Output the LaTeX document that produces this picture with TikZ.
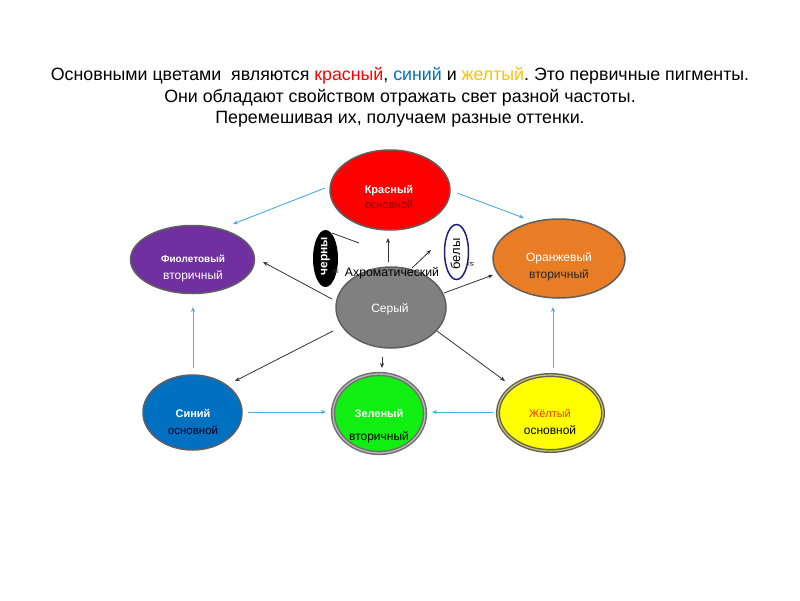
\documentclass[tikz,border=0pt]{standalone}
\usepackage{fontspec}
\setmainfont{Liberation Sans}
\usetikzlibrary{shapes.geometric,arrows.meta}
\definecolor{cRed}{HTML}{FF0000}
\definecolor{cViolet}{HTML}{7030A0}
\definecolor{cOrange}{HTML}{E87D25}
\definecolor{cGray}{HTML}{808080}
\definecolor{cBlue}{HTML}{0070C0}
\definecolor{cGreen}{HTML}{11EE11}
\definecolor{cYellow}{HTML}{FFFF00}
\definecolor{cBorder}{HTML}{5F5F5F}
\definecolor{cSky}{HTML}{4BACE0}
\definecolor{cNavy}{HTML}{1F1F80}
\definecolor{cDarkRed}{HTML}{7A0000}
\definecolor{cTitleBlue}{HTML}{0070C0}
\definecolor{cTitleYellow}{HTML}{FFC000}
\definecolor{cZhel}{HTML}{FF3300}
\tikzset{
  blob/.style={ellipse, draw=cBorder, line width=1.5pt, inner sep=0pt},
  txt/.style={inner sep=0pt, font=\fontsize{11}{13}\selectfont},
  ttl/.style={inner sep=0pt, anchor=base, font=\fontsize{17.8}{20}\selectfont},
  skyarrow/.style={draw=cSky, line width=0.9pt, -{Stealth[length=5pt,width=4pt]}},
  darkarrow/.style={draw=black!80, line width=0.8pt, -{Stealth[length=5pt,width=4pt]}},
}
\frenchspacing
\begin{document}
\begin{tikzpicture}[x=1pt,y=-1pt]
\useasboundingbox (0,0) rectangle (800,600);
% title
\node[ttl] (t1) at (400,80)
 {Основными цветами\ \ являются \textcolor{cRed}{красный}, \textcolor{cTitleBlue}{синий} и \textcolor{cTitleYellow}{желтый}. Это первичные пигменты.};
\node[ttl] (t2) at (400,102)
 {Они обладают свойством отражать свет разной частоты.};
\node[ttl] (t3) at (400,123)
 {Перемешивая их, получаем разные оттенки.};
% ellipses
\node[blob, fill=cRed, minimum width=120pt, minimum height=80pt] (red) at (390,190) {};
\node[blob, fill=cViolet, minimum width=124pt, minimum height=68pt] (viol) at (192.5,259.5) {};
\node[blob, fill=cOrange, minimum width=132pt, minimum height=79pt] (orng) at (559,258.5) {};
\node[blob, fill=cGray, minimum width=110pt, minimum height=81pt] (gray) at (391,307.5) {};
\node[blob, fill=cBlue, minimum width=99pt, minimum height=75pt] (blue) at (192.5,412.5) {};
\node[blob, fill=cGreen, draw=cBorder!90, line width=1.5pt, double=gray!55, double distance=1.3pt, minimum width=92pt, minimum height=79pt] (grn) at (379,413.5) {};
\node[blob, fill=cYellow, line width=1.4pt, double=yellow!55!gray, double distance=1.2pt, minimum width=105pt, minimum height=76pt] (yel) at (550.5,413) {};
\node[ellipse, fill=black, inner sep=0pt, minimum width=25pt, minimum height=57pt] (blk) at (325.5,258.5) {};
\node[ellipse, draw=cNavy, line width=1.5pt, fill=white, inner sep=0pt, minimum width=24pt, minimum height=55pt] (wht) at (456.5,252) {};
% texts
\node[txt, text=white, font=\fontsize{11}{13}\selectfont\bfseries] (redA) at (389,191) {Красный};
\node[txt, text=cDarkRed] (redB) at (389,204.5) {основной};
\node[txt, text=white, font=\fontsize{10}{12}\selectfont\bfseries] (violA) at (193,259) {Фиолетовый};
\node[txt, text=white, font=\fontsize{12}{14}\selectfont] (violB) at (193,276) {вторичный};
\node[txt, text=white, font=\fontsize{12}{14}\selectfont] (orngA) at (559,258) {Оранжевый};
\node[txt, text=black!85, font=\fontsize{12}{14}\selectfont] (orngB) at (559,275) {вторичный};
\node[txt, text=white, font=\fontsize{12}{14}\selectfont] (grayA) at (390,309) {Серый};
\node[txt, text=white, font=\fontsize{11}{13}\selectfont\bfseries] (blueA) at (193,413) {Синий};
\node[txt, text=black!85!blue, font=\fontsize{11.5}{14}\selectfont] (blueB) at (193,430) {основной};
\node[txt, text=white, font=\fontsize{11}{13}\selectfont\bfseries] (grnA) at (379,413) {Зеленый};
\node[txt, text=black, font=\fontsize{12}{14}\selectfont] (grnB) at (379,437) {вторичный};
\node[txt, text=cZhel, font=\fontsize{11}{13}\selectfont] (yelA) at (550,413) {Жёлтый};
\node[txt, text=black, font=\fontsize{12}{14}\selectfont] (yelB) at (550,430) {основной};
\node[txt, text=white, rotate=90, font=\fontsize{12}{14}\selectfont\bfseries] (blkT) at (325.5,256) {черны};
\node[txt, text=black, rotate=90, font=\fontsize{13}{15}\selectfont] (whtT) at (455.5,254) {белы};
\node[txt, text=black!70, rotate=90, font=\fontsize{7}{8}\selectfont] (blkY) at (336,272) {й};
\node[txt, text=black!80, rotate=90, font=\fontsize{8}{9}\selectfont] (whtY) at (471,264) {й};
\node[txt, text=black, font=\fontsize{12.3}{14}\selectfont] (achro) at (392,273) {Ахроматический};
% sky-blue arrows
\draw[skyarrow] ([shift={(-65,-2)}]red.center) -- ([shift={(40.5,-35.5)}]viol.center);
\draw[skyarrow] ([shift={(67,3)}]red.center) -- ([shift={(-35,-40.5)}]orng.center);
\draw[skyarrow] ([shift={(0.5,-44.5)}]blue.center) -- ([shift={(0.5,47.5)}]viol.center);
\draw[skyarrow] ([shift={(2.5,-45)}]yel.center) -- ([shift={(-6,48.5)}]orng.center);
\draw[skyarrow] ([shift={(55.5,-0.5)}]blue.center) -- ([shift={(-53,-1.5)}]grn.center);
\draw[skyarrow] ([shift={(-57.5,-1)}]yel.center) -- ([shift={(53,-1.5)}]grn.center);
% dark arrows from grey
\draw[darkarrow] ([shift={(-3,-45.5)}]gray.center) -- ([shift={(-2,48)}]red.center);
\draw[darkarrow] ([shift={(21,-39.5)}]gray.center) -- ([shift={(-25.5,-2)}]wht.center);
\draw[darkarrow] ([shift={(53,-14.5)}]gray.center) -- ([shift={(-66,16.5)}]orng.center);
\draw[darkarrow] ([shift={(-59,-8.5)}]gray.center) -- ([shift={(70.5,2.5)}]viol.center);
\draw[darkarrow] ([shift={(-58,23.5)}]gray.center) -- ([shift={(42.5,-31.5)}]blue.center);
\draw[darkarrow] ([shift={(-9,49.5)}]gray.center) -- ([shift={(3,-45.5)}]grn.center);
\draw[darkarrow] ([shift={(46,23.5)}]gray.center) -- ([shift={(-45.5,-32)}]yel.center);
\draw[draw=black!80, line width=0.8pt] ([shift={(-33,-30)}]achro.center) -- ([shift={(6.5,-25.5)}]blk.center);
\end{tikzpicture}
\end{document}
